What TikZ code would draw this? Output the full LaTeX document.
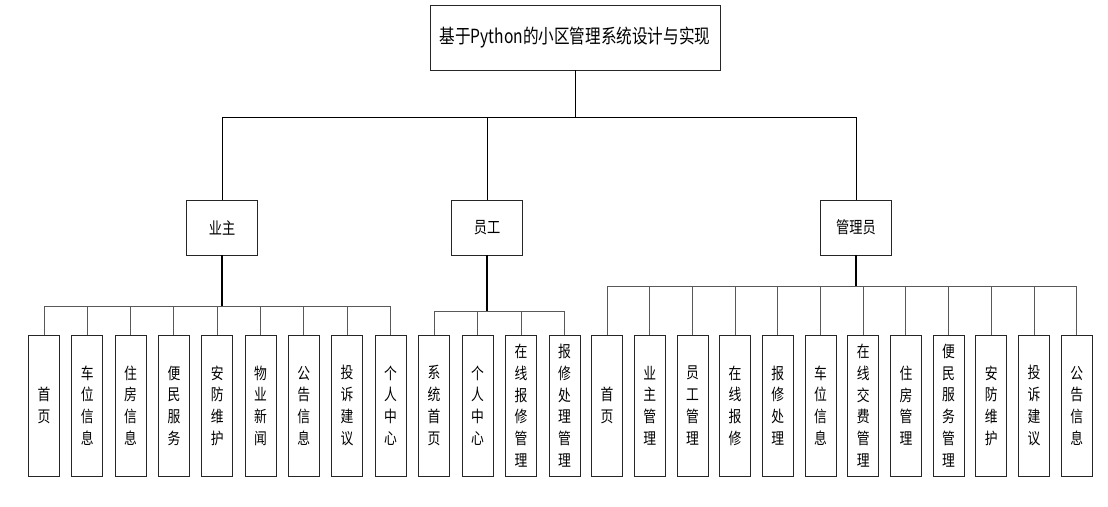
\documentclass[tikz,border=0pt]{standalone}
\usepackage{fontspec}
\setmainfont[FakeStretch=0.8]{Noto Sans CJK SC}
\usetikzlibrary{positioning}

\begin{document}
\begin{tikzpicture}[x=1pt, y=-1pt,
  box/.style={draw=black!85, line width=0.7pt, align=center, inner sep=0pt},
  rootbox/.style={box, minimum width=290pt, minimum height=65pt, font=\fontsize{19.5}{22}\selectfont},
  role/.style={box, minimum width=71pt, minimum height=55pt, font=\fontsize{16.5}{18}\selectfont},
  leaf/.style={box, minimum width=31pt, minimum height=141pt, font=\fontsize{16}{21.7}\selectfont},
  stem/.style={line width=0.7pt, draw=black},
  trunk/.style={line width=1.5pt, draw=black},
  link/.style={line width=0.9pt, draw=black!65}
]
\useasboundingbox (0,0) rectangle (1108,506);

\node[rootbox] (root) at (575,37.5) {基于Python的小区管理系统设计与实现};

\node[role] (owner) at (222,227.5) {业主};
\node[role] (staff) at (487,227.5) {员工};
\node[role] (admin) at (856,227.5) {管理员};

% owner pages
\node[leaf] (ow1) at (44,405.5) {首\\页};
\node[leaf, right=11.6pt of ow1] (ow2) {车\\位\\信\\息};
\node[leaf, right=11.6pt of ow2] (ow3) {住\\房\\信\\息};
\node[leaf, right=11.6pt of ow3] (ow4) {便\\民\\服\\务};
\node[leaf, right=11.6pt of ow4] (ow5) {安\\防\\维\\护};
\node[leaf, right=11.6pt of ow5] (ow6) {物\\业\\新\\闻};
\node[leaf, right=11.6pt of ow6] (ow7) {公\\告\\信\\息};
\node[leaf, right=11.6pt of ow7] (ow8) {投\\诉\\建\\议};
\node[leaf, right=11.6pt of ow8] (ow9) {个\\人\\中\\心};

% staff pages
\node[leaf] (st1) at (434,405.5) {系\\统\\首\\页};
\node[leaf, right=11.8pt of st1] (st2) {个\\人\\中\\心};
\node[leaf, right=11.8pt of st2] (st3) {在\\线\\报\\修\\管\\理};
\node[leaf, right=11.8pt of st3] (st4) {报\\修\\处\\理\\管\\理};

% admin pages
\node[leaf] (ad1) at (607,405.5) {首\\页};
\node[leaf, right=11pt of ad1] (ad2) {业\\主\\管\\理};
\node[leaf, right=11pt of ad2] (ad3) {员\\工\\管\\理};
\node[leaf, right=11pt of ad3] (ad4) {在\\线\\报\\修};
\node[leaf, right=11pt of ad4] (ad5) {报\\修\\处\\理};
\node[leaf, right=11pt of ad5] (ad6) {车\\位\\信\\息};
\node[leaf, right=11pt of ad6] (ad7) {在\\线\\交\\费\\管\\理};
\node[leaf, right=11pt of ad7] (ad8) {住\\房\\管\\理};
\node[leaf, right=11pt of ad8] (ad9) {便\\民\\服\\务\\管\\理};
\node[leaf, right=11pt of ad9] (ad10) {安\\防\\维\\护};
\node[leaf, right=11pt of ad10] (ad11) {投\\诉\\建\\议};
\node[leaf, right=11pt of ad11] (ad12) {公\\告\\信\\息};

% root to roles
\draw[stem] (root.south) -- ++(0,47) coordinate (rootbus);
\draw[stem] (rootbus) -| (owner.north);
\draw[stem] (rootbus) -| (staff.north);
\draw[stem] (rootbus) -| (admin.north);

% roles to pages
\draw[trunk] (owner.south) -- ++(0,51) coordinate (owbus);
\draw[link] (owbus) -| (ow1.north);
\draw[link] (owbus) -| (ow2.north);
\draw[link] (owbus) -| (ow3.north);
\draw[link] (owbus) -| (ow4.north);
\draw[link] (owbus) -| (ow5.north);
\draw[link] (owbus) -| (ow6.north);
\draw[link] (owbus) -| (ow7.north);
\draw[link] (owbus) -| (ow8.north);
\draw[link] (owbus) -| (ow9.north);

\draw[trunk] (staff.south) -- ++(0,56) coordinate (stbus);
\draw[link] (stbus) -| (st1.north);
\draw[link] (stbus) -| (st2.north);
\draw[link] (stbus) -| (st3.north);
\draw[link] (stbus) -| (st4.north);

\draw[trunk] (admin.south) -- ++(0,31) coordinate (adbus);
\draw[link] (adbus) -| (ad1.north);
\draw[link] (adbus) -| (ad2.north);
\draw[link] (adbus) -| (ad3.north);
\draw[link] (adbus) -| (ad4.north);
\draw[link] (adbus) -| (ad5.north);
\draw[link] (adbus) -| (ad6.north);
\draw[link] (adbus) -| (ad7.north);
\draw[link] (adbus) -| (ad8.north);
\draw[link] (adbus) -| (ad9.north);
\draw[link] (adbus) -| (ad10.north);
\draw[link] (adbus) -| (ad11.north);
\draw[link] (adbus) -| (ad12.north);
\end{tikzpicture}
\end{document}
